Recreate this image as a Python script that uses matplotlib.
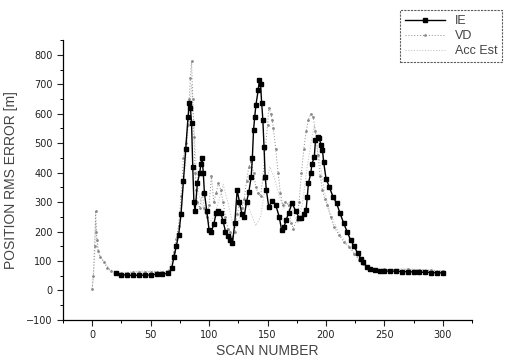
import matplotlib
matplotlib.use("Agg")
import matplotlib.pyplot as plt
from matplotlib.ticker import MultipleLocator

# IE: black line with square markers
ie_x = [20, 25, 30, 35, 40, 45, 50, 55, 60, 65, 68, 70, 72, 74, 76, 78, 80, 82, 83, 84,
        85, 86, 87, 88, 90, 92, 93, 94, 95, 96, 98, 100, 102, 104, 106, 108, 110, 112, 114, 116,
        118, 120, 122, 124, 126, 128, 130, 132, 134, 136, 137, 138, 139, 140, 142, 143, 144, 145, 146, 147,
        148, 149, 151, 154, 157, 160, 162, 164, 166, 168, 171, 174, 177, 179, 181, 183, 184, 185, 187, 188,
        190, 191, 193, 194, 196, 197, 198, 200, 203, 206, 209, 212, 215, 218, 221, 224, 227, 230, 232, 235,
        238, 242, 246, 250, 255, 260, 265, 270, 275, 280, 285, 290, 295, 300]
ie_y = [58, 54, 52, 51, 52, 52, 53, 55, 56, 58, 75, 115, 152, 190, 260, 370, 480, 590, 635, 620,
        567, 420, 300, 270, 365, 400, 430, 450, 400, 331, 270, 205, 200, 225, 262, 270, 262, 235, 200, 185,
        170, 162, 230, 341, 300, 260, 250, 300, 335, 385, 450, 544, 588, 628, 680, 713, 700, 635, 578, 486,
        385, 341, 284, 305, 290, 250, 206, 215, 240, 263, 297, 270, 247, 245, 260, 274, 318, 365, 398, 430,
        453, 510, 520, 517, 493, 476, 436, 380, 350, 318, 297, 262, 230, 200, 172, 150, 128, 108, 95, 80,
        72, 68, 67, 66, 66, 65, 64, 64, 63, 62, 62, 61, 60, 60]

# VD: grey dotted
vd_x = [0, 1, 2, 3, 3.5, 4, 5, 7, 10, 13, 16, 20, 25, 30, 35, 40, 45, 50, 55, 60,
        65, 68, 70, 72, 74, 76, 78, 80, 82, 83, 84, 85, 86, 87, 88, 89, 90, 92, 94, 96,
        98, 100, 102, 104, 106, 108, 110, 112, 114, 116, 118, 120, 122, 124, 126, 128, 130, 132, 134, 136,
        138, 140, 142, 144, 146, 148, 150, 151, 153, 154, 155, 157, 159, 161, 163, 165, 168, 170, 172, 175,
        177, 179, 181, 183, 185, 187, 189, 191, 193, 195, 197, 199, 201, 204, 207, 211, 215, 220, 224, 228,
        232, 236, 240, 250, 260, 270, 280, 290, 300]
vd_y = [5, 50, 150, 270, 200, 170, 135, 115, 95, 78, 65, 55, 58, 60, 62, 63, 62, 64, 63, 62,
        65, 80, 130, 175, 220, 320, 450, 500, 560, 650, 720, 780, 650, 520, 400, 340, 300, 280, 330, 280,
        250, 290, 390, 300, 330, 365, 340, 300, 250, 210, 200, 180, 200, 260, 290, 280, 310, 370, 420, 440,
        400, 350, 330, 320, 380, 480, 560, 620, 600, 578, 550, 480, 400, 330, 290, 300, 290, 230, 210, 240,
        300, 400, 480, 540, 580, 600, 590, 540, 460, 390, 340, 310, 290, 250, 215, 190, 165, 148, 125, 105,
        90, 75, 72, 72, 70, 72, 70, 68, 66]

# Acc Est: light grey
acc_x = [0, 2, 3, 4, 6, 10, 15, 20, 30, 40, 50, 60, 65, 70, 75, 80, 83, 85, 87, 89,
         91, 94, 97, 100, 104, 108, 112, 116, 120, 124, 128, 132, 136, 140, 144, 148, 152, 156, 160, 164,
         168, 172, 176, 180, 184, 188, 190, 192, 195, 199, 203, 207, 212, 218, 224, 228, 232, 236, 245, 255,
         265, 275, 285, 295, 300]
acc_y = [10, 100, 230, 180, 120, 100, 72, 62, 62, 66, 66, 65, 68, 120, 250, 440, 600, 700, 560, 420,
         330, 290, 260, 230, 250, 300, 360, 300, 230, 220, 270, 300, 260, 220, 250, 350, 420, 380, 320, 280,
         300, 260, 230, 300, 420, 520, 560, 500, 430, 330, 270, 230, 190, 160, 130, 110, 88, 72, 70, 72,
         74, 72, 70, 68, 67]

fig = plt.figure(figsize=(5.06, 3.64), dpi=100)
ax = fig.add_axes([0.1245, 0.121, 0.8085, 0.769])

ax.plot(acc_x, acc_y, color="#c9c9c9", lw=0.8, ls=(0, (1, 1.5)), label="Acc Est")
ax.plot(vd_x, vd_y, color="#8a8a8a", lw=0.7, ls=(0, (1, 2)), marker=".", markersize=2,
        label="VD")
ax.plot(ie_x, ie_y, color="black", lw=1.0, marker="s", markersize=2.6, label="IE")

ax.set_xlim(-25, 325)
ax.set_ylim(-100, 850)
ax.xaxis.set_major_locator(MultipleLocator(50))
ax.xaxis.set_minor_locator(MultipleLocator(25))
ax.set_yticks(range(-100, 801, 100))
ax.yaxis.set_minor_locator(MultipleLocator(50))
ax.tick_params(which="major", direction="out", length=4, width=0.8, labelsize=7,
               colors="#222222")
ax.tick_params(which="minor", direction="out", length=2.5, width=0.7)
ax.spines[["top", "right"]].set_visible(False)
for s in ("left", "bottom"):
    ax.spines[s].set_linewidth(0.9)

ax.set_xlabel("SCAN NUMBER", fontsize=10, color="#444444", family="Liberation Sans")
ax.set_ylabel("POSITION RMS ERROR [m]", fontsize=10, color="#444444",
              family="Liberation Sans")
ax.xaxis.set_label_coords(0.5, -0.085)
ax.yaxis.set_label_coords(-0.11, 0.5)

handles, labels = ax.get_legend_handles_labels()
order = [2, 1, 0]
leg = fig.legend([handles[i] for i in order], [labels[i] for i in order],
                 loc="upper right", bbox_to_anchor=(1.005, 0.99),
                 frameon=True, fancybox=False, borderpad=0.4, handlelength=3.2,
                 labelspacing=0.25, prop={"family": "Liberation Sans", "size": 9})
leg.get_frame().set_edgecolor("#333333")
leg.get_frame().set_linestyle((0, (2, 1)))
leg.get_frame().set_linewidth(0.8)
for t in leg.get_texts():
    t.set_color("#444444")

fig.savefig("out.png", dpi=100, facecolor="white")
